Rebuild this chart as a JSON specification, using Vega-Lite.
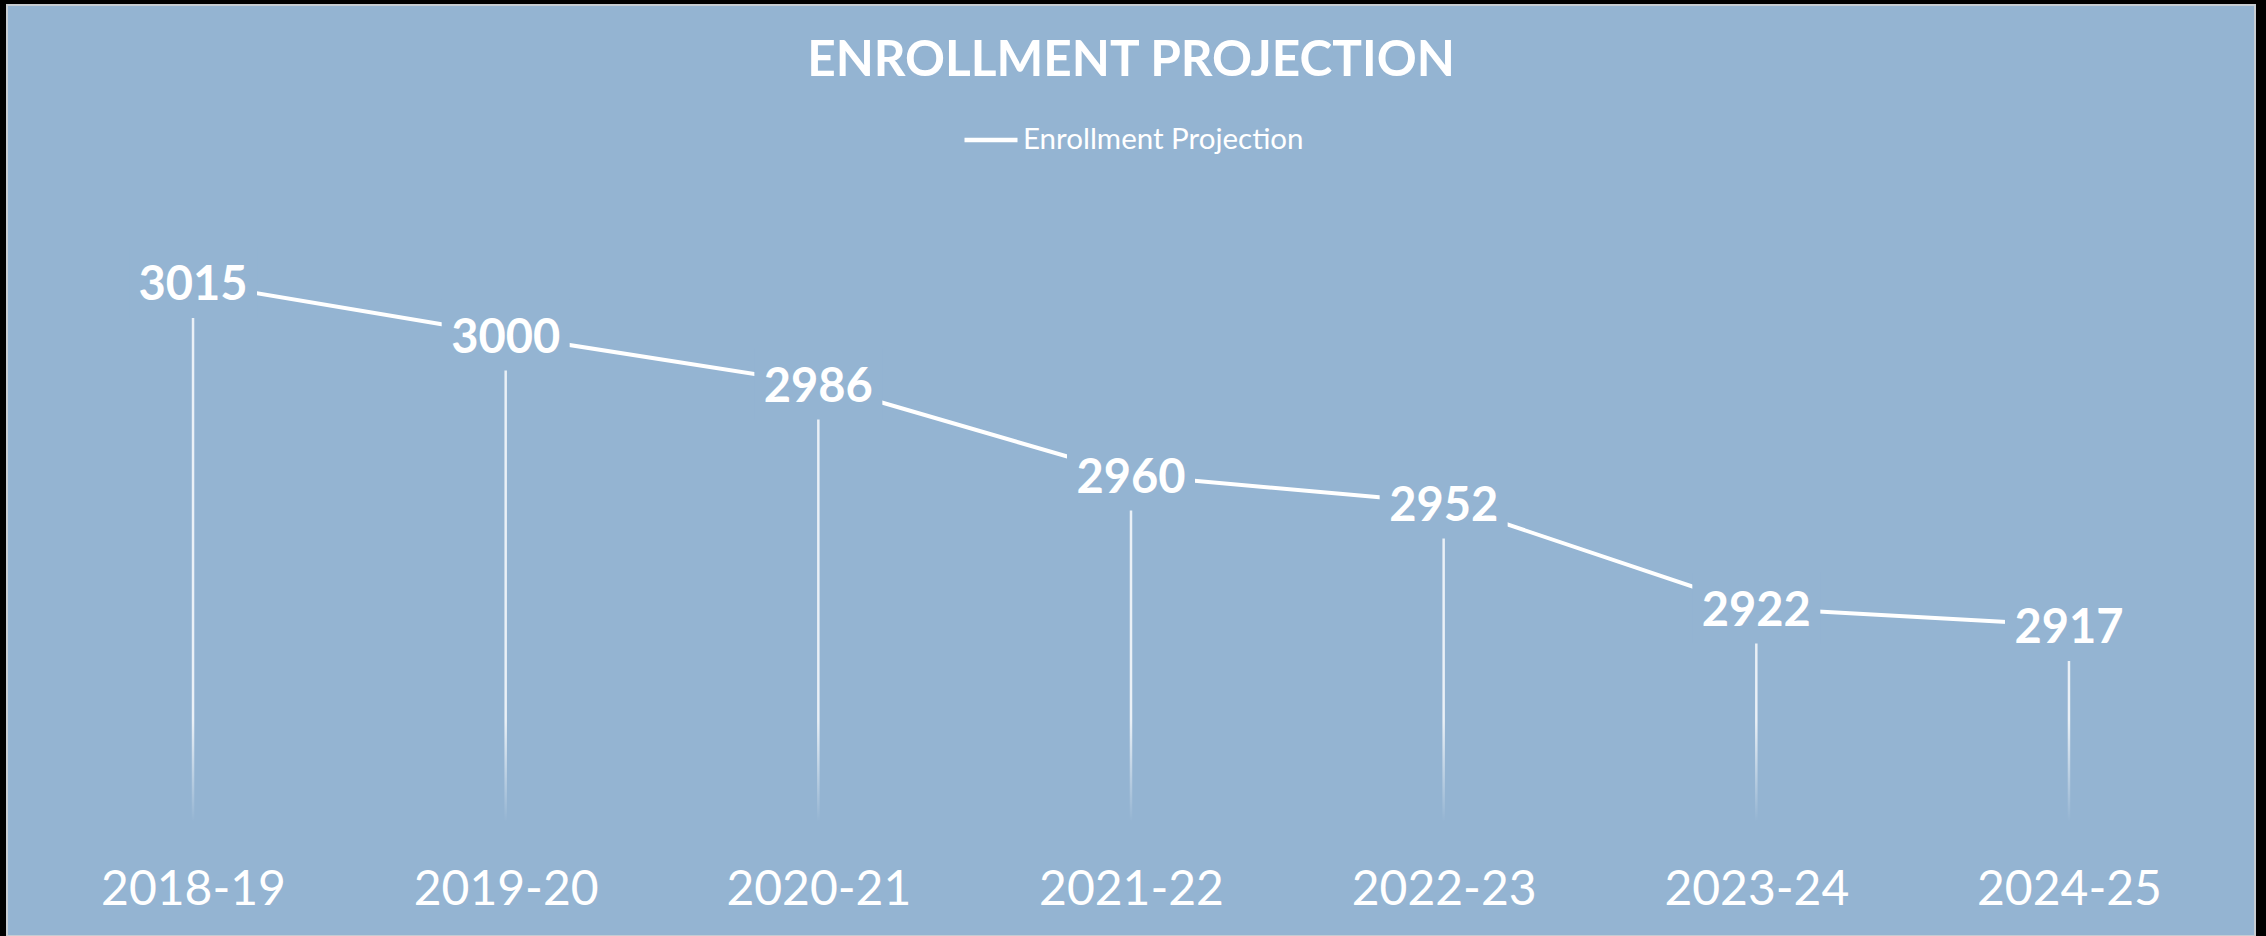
{
  "$schema": "https://vega.github.io/schema/vega-lite/v6.json",
  "width": 2248,
  "height": 931,
  "autosize": "none",
  "padding": {"left": 7, "top": 5, "right": 11, "bottom": 0},
  "background": "#000000",
  "config": {
    "view": {"fill": "#94B4D2", "stroke": "#C6CCD2", "strokeWidth": 2},
    "font": "Lato"
  },
  "title": {
    "text": "ENROLLMENT PROJECTION",
    "font": "Lato",
    "fontSize": 49.5,
    "fontWeight": "bold",
    "color": "#FFFFFF",
    "anchor": "middle",
    "baseline": "alphabetic",
    "offset": 0,
    "limit": 0,
    "dy": 120
  },
  "data": {
    "values": [
      {"year": "2018-19", "value": 3015},
      {"year": "2019-20", "value": 3000},
      {"year": "2020-21", "value": 2986},
      {"year": "2021-22", "value": 2960},
      {"year": "2022-23", "value": 2952},
      {"year": "2023-24", "value": 2922},
      {"year": "2024-25", "value": 2917}
    ]
  },
  "encoding": {
    "x": {
      "field": "year",
      "type": "ordinal",
      "sort": null,
      "scale": {"type": "point", "padding": 0.595},
      "axis": {
        "title": null,
        "orient": "bottom",
        "offset": -111,
        "domain": false,
        "ticks": false,
        "tickSize": 0,
        "grid": false,
        "labelFont": "Lato",
        "labelFontSize": 48,
        "labelColor": "#FFFFFF",
        "labelBaseline": "alphabetic",
        "labelPadding": 79,
        "labelLimit": 0,
        "labelAngle": 0
      }
    }
  },
  "layer": [
    {
      "mark": {"type": "rule", "color": "#FFFFFF", "opacity": 0.8, "strokeWidth": 2.5},
      "encoding": {
        "y": {"field": "value", "type": "quantitative", "scale": {"domain": [2828.29, 3094.29], "nice": false, "zero": false}, "axis": null},
        "y2": {"datum": 2890}
      }
    },
    {
      "mark": {
        "type": "bar",
        "width": 2.5,
        "color": {
          "gradient": "linear",
          "x1": 0, "y1": 0, "x2": 0, "y2": 1,
          "stops": [
            {"offset": 0, "color": "rgba(255,255,255,0.8)"},
            {"offset": 1, "color": "rgba(255,255,255,0)"}
          ]
        }
      },
      "encoding": {
        "y": {"datum": 2890, "type": "quantitative"},
        "y2": {"datum": 2861}
      }
    },
    {
      "mark": {"type": "line", "strokeWidth": 4},
      "encoding": {
        "y": {"field": "value", "type": "quantitative"},
        "color": {
          "datum": "Enrollment Projection",
          "type": "nominal",
          "scale": {"range": ["#FFFFFF"]},
          "legend": {
            "title": null,
            "orient": "none",
            "legendX": 955,
            "legendY": 106,
            "padding": 0,
            "symbolType": "stroke",
            "symbolSize": 2809,
            "symbolStrokeWidth": 4.5,
            "labelFont": "Lato",
            "labelFontSize": 29.5,
            "labelColor": "#FFFFFF",
            "labelLimit": 0,
            "labelOffset": 3
          }
        }
      }
    },
    {
      "mark": {
        "type": "point",
        "shape": "M-1,-0.555L1,-0.555L1,0.555L-1,0.555Z",
        "size": 16384,
        "filled": true,
        "fill": "#94B4D2",
        "opacity": 1,
        "strokeWidth": 0
      },
      "encoding": {
        "y": {"field": "value", "type": "quantitative"}
      }
    },
    {
      "mark": {
        "type": "text",
        "font": "Lato",
        "fontSize": 47,
        "fontWeight": "bold",
        "color": "#FFFFFF",
        "align": "center",
        "baseline": "alphabetic",
        "dy": 17.5
      },
      "encoding": {
        "y": {"field": "value", "type": "quantitative"},
        "text": {"field": "value", "type": "quantitative", "format": "d"}
      }
    }
  ]
}
